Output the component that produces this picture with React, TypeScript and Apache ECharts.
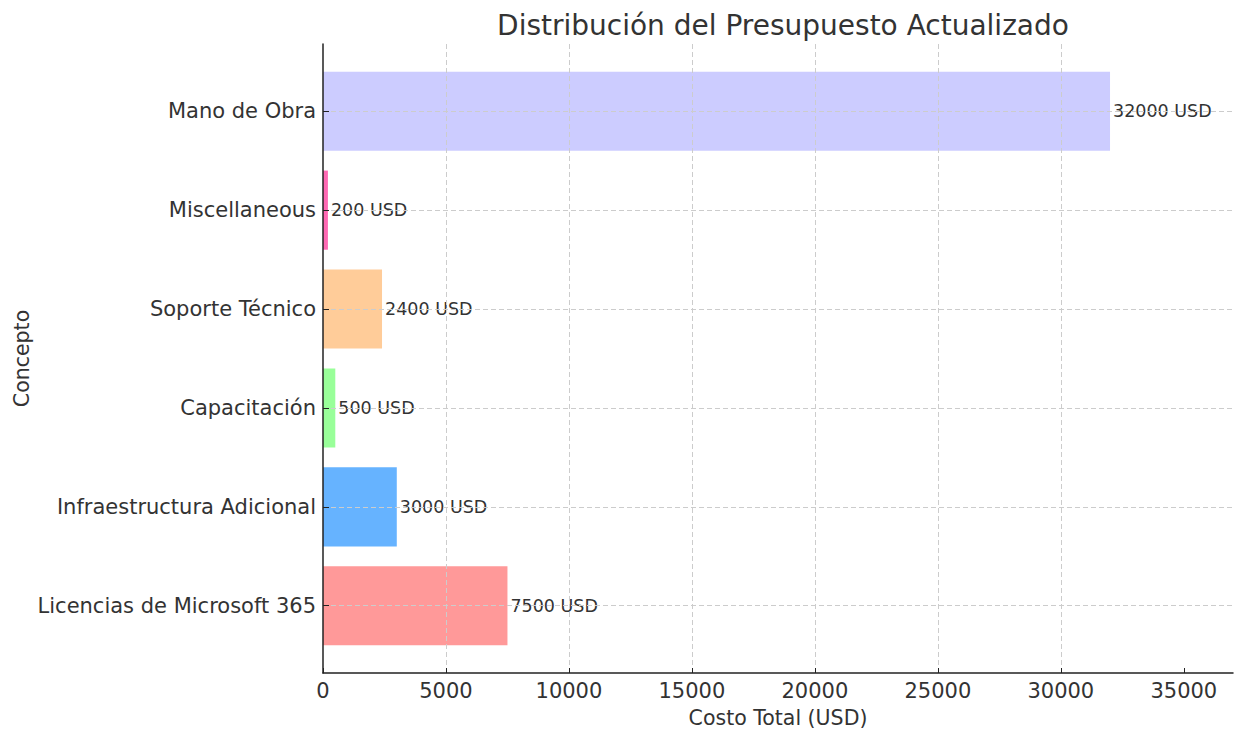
import React, { useEffect, useRef } from "react";
import * as echarts from "echarts";

const categories = [
  "Licencias de Microsoft 365",
  "Infraestructura Adicional",
  "Capacitación",
  "Soporte Técnico",
  "Miscellaneous",
  "Mano de Obra",
];
const values = [7500, 3000, 500, 2400, 200, 32000];
const barColors = ["#ff9999", "#66b3ff", "#99ff99", "#ffcc99", "#ff69b4", "#ccccff"];
const xTicks = [0, 5000, 10000, 15000, 20000, 25000, 30000, 35000];
const categoryIndex = [0, 1, 2, 3, 4, 5];

const FONT = "DejaVu Sans";

export default function App() {
  const ref = useRef<HTMLDivElement>(null);
  useEffect(() => {
    if (!ref.current) return;
    const chart = echarts.init(ref.current, null, { renderer: "svg" });
    const data = values.map((v, i) => [v, i]);
    chart.setOption({
      animation: false,
      backgroundColor: "#ffffff",
      title: {
        text: "Distribución del Presupuesto Actualizado",
        left: 778,
        textAlign: "center",
        top: 6,
        textStyle: { fontFamily: FONT, fontSize: 28, fontWeight: "normal", color: "#333333" },
      },
      grid: {
        left: 323,
        right: 2,
        top: 44,
        bottom: 56,
        containLabel: false,
        outerBoundsMode: "none",
      },
      xAxis: {
        type: "value",
        min: 0,
        max: 37000,
        interval: 5000,
        z: 5,
        name: "Costo Total (USD)",
        nameLocation: "middle",
        nameGap: 34,
        nameTextStyle: { fontFamily: FONT, fontSize: 20.5, color: "#333333" },
        axisLine: { show: true, onZero: false, lineStyle: { color: "#222222", width: 1.5 } },
        axisTick: { show: true, inside: true, length: 5, customValues: xTicks, lineStyle: { color: "#222222" } },
        axisLabel: {
          fontFamily: FONT,
          fontSize: 21,
          color: "#333333",
          margin: 7,
          customValues: xTicks,
          formatter: (v: number) => String(v),
        },
        splitLine: {
          show: true,
          showMinLine: false,
          showMaxLine: false,
          lineStyle: { type: [5, 3], color: "#cccccc", width: 1 },
        },
      },
      yAxis: {
        type: "value",
        min: -0.68,
        max: 5.68,
        z: 5,
        name: "Concepto",
        nameLocation: "middle",
        nameGap: 291,
        nameMoveOverlap: false,
        nameRotate: 90,
        nameTextStyle: { fontFamily: FONT, fontSize: 20.5, color: "#333333" },
        axisLine: { show: true, onZero: false, lineStyle: { color: "#222222", width: 1.5 } },
        axisTick: { show: true, inside: true, length: 6, customValues: categoryIndex, lineStyle: { color: "#222222" } },
        axisLabel: {
          fontFamily: FONT,
          fontSize: 21,
          color: "#333333",
          margin: 7,
          customValues: categoryIndex,
          formatter: (v: number) => categories[Math.round(v)] ?? "",
        },
        splitLine: {
          show: true,
          lineStyle: { type: [5, 3], color: "#cccccc", width: 1 },
        },
      },
      series: [
        {
          type: "custom",
          z: 2,
          encode: { x: 0, y: 1 },
          data,
          renderItem: (params: any, api: any) => {
            const v = api.value(0);
            const i = api.value(1);
            const p0 = api.coord([0, i]);
            const p1 = api.coord([v, i]);
            const h = api.size([0, 0.8])[1];
            return {
              type: "group",
              children: [
                {
                  type: "rect",
                  shape: { x: p0[0], y: p0[1] - h / 2, width: p1[0] - p0[0], height: h },
                  style: { fill: barColors[params.dataIndex] },
                },
                {
                  type: "text",
                  z2: 10,
                  x: p1[0] + 3,
                  y: p1[1],
                  style: {
                    text: `${v} USD`,
                    fill: "#333333",
                    font: `17.5px '${FONT}'`,
                    verticalAlign: "middle",
                    align: "left",
                  },
                },
              ],
            };
          },
        },
      ],
    });
    return () => chart.dispose();
  }, []);
  return (
    <div
      ref={ref}
      style={{ position: "fixed", left: 0, top: 0, width: 1235, height: 729 }}
    />
  );
}
